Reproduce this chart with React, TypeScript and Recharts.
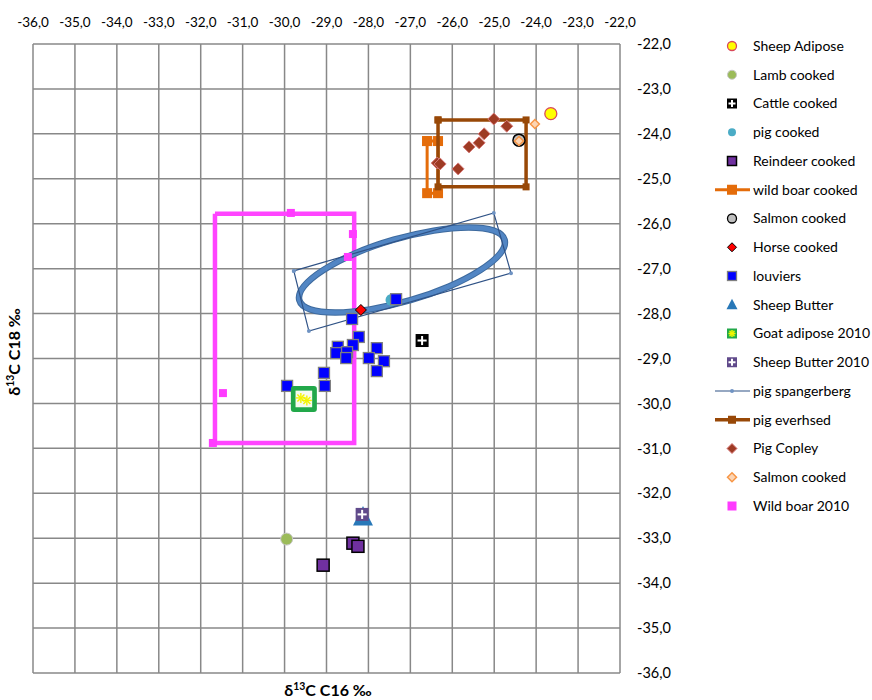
import React from 'react';
import { ScatterChart, Scatter, XAxis, YAxis, CartesianGrid } from 'recharts';

const xTicks = [-36, -35, -34, -33, -32, -31, -30, -29, -28, -27, -26, -25, -24, -23, -22];
const yTicks = [-36, -35, -34, -33, -32, -31, -30, -29, -28, -27, -26, -25, -24, -23, -22];

const sheepAdipose = [{ x: -23.65, y: -23.55 }];
const lambCooked = [{ x: -29.95, y: -33.02 }];
const cattleCooked = [{ x: -26.72, y: -28.6 }];
const pigCooked = [{ x: -27.45, y: -27.7 }];
const reindeerCooked = [
  { x: -29.08, y: -33.6 },
  { x: -28.37, y: -33.11 },
  { x: -28.25, y: -33.18 },
];
const wildBoarCooked = [
  { x: -26.6, y: -24.16 },
  { x: -26.34, y: -24.16 },
  { x: -26.34, y: -25.32 },
  { x: -26.6, y: -25.32 },
  { x: -26.6, y: -24.16 },
];
const salmonCooked = [{ x: -24.41, y: -24.14 }];
const horseCooked = [{ x: -28.18, y: -27.92 }];
const louviers = [
  { x: -27.34, y: -27.68 },
  { x: -28.39, y: -28.12 },
  { x: -28.23, y: -28.52 },
  { x: -28.73, y: -28.74 },
  { x: -28.37, y: -28.7 },
  { x: -28.77, y: -28.88 },
  { x: -28.51, y: -28.86 },
  { x: -28.53, y: -28.99 },
  { x: -27.8, y: -28.77 },
  { x: -27.99, y: -28.99 },
  { x: -27.63, y: -29.06 },
  { x: -27.8, y: -29.28 },
  { x: -29.06, y: -29.32 },
  { x: -29.04, y: -29.61 },
  { x: -29.94, y: -29.61 },
];
const sheepButter = [{ x: -28.13, y: -32.53 }];
const goatAdipose2010 = [{ x: -29.54, y: -29.9 }];
const sheepButter2010 = [{ x: -28.15, y: -32.47 }];
const pigSpangerberg = [
  { x: -29.78, y: -27.05 },
  { x: -29.42, y: -28.39 },
  { x: -24.6, y: -27.1 },
  { x: -25.01, y: -25.76 },
  { x: -29.78, y: -27.05 },
];
const pigEverhsed = [
  { x: -26.34, y: -23.69 },
  { x: -24.24, y: -23.69 },
  { x: -24.24, y: -25.18 },
  { x: -26.34, y: -25.18 },
  { x: -26.34, y: -23.69 },
];
const pigCopley = [
  { x: -25.01, y: -23.67 },
  { x: -24.7, y: -23.83 },
  { x: -25.24, y: -24.0 },
  { x: -25.36, y: -24.2 },
  { x: -25.6, y: -24.29 },
  { x: -26.36, y: -24.65 },
  { x: -26.29, y: -24.67 },
  { x: -25.86, y: -24.78 },
];
const salmonCooked2 = [
  { x: -24.03, y: -23.78 },
  { x: -24.41, y: -24.16 },
];
const wildBoar2010 = [
  { x: -29.85, y: -25.76 },
  { x: -28.37, y: -26.23 },
  { x: -28.49, y: -26.74 },
  { x: -31.47, y: -29.77 },
  { x: -31.71, y: -30.88 },
];
const wildBoar2010Box = [
  { x: -31.66, y: -25.78 },
  { x: -28.34, y: -25.78 },
  { x: -28.34, y: -30.88 },
  { x: -31.66, y: -30.88 },
  { x: -31.66, y: -25.78 },
];
const ellipseOutline = [
  { x: -24.69, y: -26.34 },
  { x: -24.8, y: -26.66 },
  { x: -25.28, y: -27.03 },
  { x: -26.05, y: -27.41 },
  { x: -26.99, y: -27.72 },
  { x: -27.98, y: -27.93 },
  { x: -28.83, y: -28.0 },
  { x: -29.45, y: -27.93 },
  { x: -29.71, y: -27.72 },
  { x: -29.6, y: -27.4 },
  { x: -29.12, y: -27.03 },
  { x: -28.35, y: -26.65 },
  { x: -27.4, y: -26.34 },
  { x: -26.42, y: -26.13 },
  { x: -25.57, y: -26.06 },
  { x: -24.95, y: -26.13 },
];

const FONT = 'Lato, "Open Sans", sans-serif';
const fmt = (v: number) => v.toFixed(1).replace('.', ',');

const none = () => <g />;
const circle = (fill: string, stroke: string, r: number, sw = 1) => (p: any) => (
  <circle cx={p.cx} cy={p.cy} r={r} fill={fill} stroke={stroke} strokeWidth={sw} />
);
const square = (fill: string, stroke: string, s: number, sw = 1) => (p: any) => (
  <rect x={p.cx - s / 2} y={p.cy - s / 2} width={s} height={s} fill={fill} stroke={stroke} strokeWidth={sw} />
);
const crossSquare = (fill: string, s: number) => (p: any) => (
  <g>
    <rect x={p.cx - s / 2} y={p.cy - s / 2} width={s} height={s} fill={fill} />
    <line x1={p.cx - s * 0.35} y1={p.cy} x2={p.cx + s * 0.35} y2={p.cy} stroke="#fff" strokeWidth={2} />
    <line x1={p.cx} y1={p.cy - s * 0.35} x2={p.cx} y2={p.cy + s * 0.35} stroke="#fff" strokeWidth={2} />
  </g>
);
const diamond = (fill: string, stroke: string, h: number, sw = 1) => (p: any) => (
  <polygon
    points={`${p.cx},${p.cy - h} ${p.cx + h},${p.cy} ${p.cx},${p.cy + h} ${p.cx - h},${p.cy}`}
    fill={fill}
    stroke={stroke}
    strokeWidth={sw}
  />
);
const triangle = (fill: string, w: number) => (p: any) => (
  <polygon
    points={`${p.cx},${p.cy - w * 0.55} ${p.cx + w / 2},${p.cy + w * 0.42} ${p.cx - w / 2},${p.cy + w * 0.42}`}
    fill={fill}
  />
);
const star = (cx: number, cy: number, r: number) => (
  <g stroke="#F4F400" strokeWidth={1.4}>
    <line x1={cx - r} y1={cy} x2={cx + r} y2={cy} />
    <line x1={cx} y1={cy - r} x2={cx} y2={cy + r} />
    <line x1={cx - r * 0.7} y1={cy - r * 0.7} x2={cx + r * 0.7} y2={cy + r * 0.7} />
    <line x1={cx - r * 0.7} y1={cy + r * 0.7} x2={cx + r * 0.7} y2={cy - r * 0.7} />
  </g>
);
const goatShape = (s: number) => (p: any) => (
  <g>
    <rect x={p.cx - s / 2} y={p.cy - s / 2} width={s} height={s} rx={s > 15 ? 3 : 0} fill="#22A84A" />
    <rect x={p.cx - s * 0.32} y={p.cy - s * 0.32} width={s * 0.64} height={s * 0.64} fill={s > 15 ? '#F6FBEF' : '#3FCB3F'} />
    {s > 15 ? (
      <g>
        {star(p.cx - 3, p.cy - 1, 5)}
        {star(p.cx + 3, p.cy + 1.5, 5)}
      </g>
    ) : (
      star(p.cx, p.cy, s * 0.35)
    )}
  </g>
);

const shapes = {
  sheepAdipose: circle('#FFFF00', '#D9485A', 6, 1.3),
  lamb: circle('#9BBB59', '#C8C8C8', 6, 1),
  cattle: crossSquare('#000', 13),
  pig: circle('#4BACC6', '#4BACC6', 6, 0),
  reindeer: square('#7030A0', '#000', 12, 1.5),
  wildBoarCooked: square('#E46C0A', '#E46C0A', 10, 0),
  salmon: circle('#BFBFBF', '#000', 6, 1.5),
  horse: diamond('#FF0000', '#000', 5.5, 1),
  louviers: square('#0000FF', '#7F7F7F', 11, 1.3),
  sheepButter: triangle('#2878B8', 20),
  goat: goatShape(26),
  sheepButter2010: crossSquare('#604A8B', 13),
  spangerberg: circle('#6F93C3', '#6F93C3', 2, 0),
  everhsed: square('#984807', '#984807', 7, 0),
  copley: diamond('#9E3B24', '#D77A7A', 6, 1),
  salmon2: diamond('#FCD5B4', '#F79646', 4.5, 1.5),
  wildBoar2010: square('#FF3BFF', '#FF3BFF', 8, 0),
};

type LegendItem = { name: string; icon: (p: any) => React.ReactNode; line?: { stroke: string; width: number } };
const legendItems: LegendItem[] = [
  { name: 'Sheep Adipose', icon: circle('#FFFF00', '#D9485A', 4.5, 1.3) },
  { name: 'Lamb cooked', icon: circle('#9BBB59', '#C8C8C8', 4.5, 1) },
  { name: 'Cattle cooked', icon: crossSquare('#000', 10) },
  { name: 'pig cooked', icon: circle('#4BACC6', '#4BACC6', 4, 0) },
  { name: 'Reindeer cooked', icon: square('#7030A0', '#000', 9, 1.5) },
  { name: 'wild boar cooked', icon: square('#E46C0A', '#E46C0A', 10, 0), line: { stroke: '#E46C0A', width: 3 } },
  { name: 'Salmon cooked', icon: circle('#BFBFBF', '#000', 4.5, 1.3) },
  { name: 'Horse cooked', icon: diamond('#FF0000', '#000', 4.5, 1) },
  { name: 'louviers', icon: square('#0000FF', '#7F7F7F', 9, 1.3) },
  { name: 'Sheep Butter', icon: triangle('#2878B8', 11) },
  { name: 'Goat adipose 2010', icon: goatShape(10) },
  { name: 'Sheep Butter 2010', icon: crossSquare('#604A8B', 10) },
  { name: 'pig spangerberg', icon: circle('#6F93C3', '#6F93C3', 2, 0), line: { stroke: '#2F5286', width: 1.2 } },
  { name: 'pig everhsed', icon: square('#984807', '#984807', 8, 0), line: { stroke: '#984807', width: 3.5 } },
  { name: 'Pig Copley', icon: diamond('#9E3B24', '#D77A7A', 5, 1) },
  { name: 'Salmon cooked', icon: diamond('#FCD5B4', '#F79646', 4.5, 1.5) },
  { name: 'Wild boar 2010', icon: square('#FF3BFF', '#FF3BFF', 9, 0) },
];

function Legend() {
  return (
    <g>
      {legendItems.map((it, i) => {
        const cy = 46 + i * 28.75;
        const cx = 732;
        return (
          <g key={i}>
            {it.line && <line x1={715} y1={cy} x2={750} y2={cy} stroke={it.line.stroke} strokeWidth={it.line.width} />}
            {it.icon({ cx, cy })}
            <text x={753} y={cy} dy="0.35em" fontFamily={FONT} fontSize={14} fill="#000">
              {it.name}
            </text>
          </g>
        );
      })}
    </g>
  );
}

export default function App() {
  return (
    <div style={{ position: 'absolute', left: 0, top: 0, width: 872, height: 700, background: '#fff' }}>
      <ScatterChart width={872} height={700} margin={{ top: 0, right: 192, bottom: 27, left: 33 }}>
        <CartesianGrid stroke="#888888" strokeWidth={1.5} />
        <XAxis
          type="number"
          dataKey="x"
          orientation="top"
          height={44}
          domain={[-36, -22]}
          ticks={xTicks}
          allowDataOverflow
          axisLine={false}
          tickLine={false}
          tickMargin={11}
          tickFormatter={fmt}
          tick={{ fill: '#000', fontSize: 13.5, fontFamily: FONT }}
          interval={0}
        />
        <YAxis
          type="number"
          dataKey="y"
          orientation="right"
          width={60}
          domain={[-36, -22]}
          ticks={yTicks}
          allowDataOverflow
          axisLine={false}
          tickLine={false}
          tickMargin={11}
          tickFormatter={fmt}
          tick={{ fill: '#000', fontSize: 14.5, fontFamily: FONT, textAnchor: 'start' }}
          interval={0}
        />
        <Scatter name="wildBoar2010Box" data={wildBoar2010Box} line={{ stroke: '#FF44FF', strokeWidth: 4.5, fill: 'none' }} lineType="joint" shape={none} isAnimationActive={false} />
        <Scatter name="ellipseShadow" data={ellipseOutline} line={{ stroke: '#3D6A9E', strokeWidth: 6.5, fill: 'none' }} lineType="joint" lineJointType="basisClosed" shape={none} isAnimationActive={false} />
        <Scatter name="ellipse" data={ellipseOutline} line={{ stroke: '#5286C4', strokeWidth: 4.5, fill: 'none' }} lineType="joint" lineJointType="basisClosed" shape={none} isAnimationActive={false} />
        <Scatter name="pig spangerberg" data={pigSpangerberg} line={{ stroke: '#2F5286', strokeWidth: 1.2, fill: 'none' }} lineType="joint" shape={shapes.spangerberg} isAnimationActive={false} />
        <Scatter name="wild boar cooked" data={wildBoarCooked} line={{ stroke: '#E46C0A', strokeWidth: 3, fill: 'none' }} lineType="joint" shape={shapes.wildBoarCooked} isAnimationActive={false} />
        <Scatter name="pig everhsed" data={pigEverhsed} line={{ stroke: '#984807', strokeWidth: 3.5, fill: 'none' }} lineType="joint" shape={shapes.everhsed} isAnimationActive={false} />
        <Scatter name="Wild boar 2010" data={wildBoar2010} shape={shapes.wildBoar2010} isAnimationActive={false} />
        <Scatter name="Sheep Adipose" data={sheepAdipose} shape={shapes.sheepAdipose} isAnimationActive={false} />
        <Scatter name="Lamb cooked" data={lambCooked} shape={shapes.lamb} isAnimationActive={false} />
        <Scatter name="Cattle cooked" data={cattleCooked} shape={shapes.cattle} isAnimationActive={false} />
        <Scatter name="pig cooked" data={pigCooked} shape={shapes.pig} isAnimationActive={false} />
        <Scatter name="Reindeer cooked" data={reindeerCooked} shape={shapes.reindeer} isAnimationActive={false} />
        <Scatter name="Salmon cooked" data={salmonCooked} shape={shapes.salmon} isAnimationActive={false} />
        <Scatter name="Horse cooked" data={horseCooked} shape={shapes.horse} isAnimationActive={false} />
        <Scatter name="louviers" data={louviers} shape={shapes.louviers} isAnimationActive={false} />
        <Scatter name="Sheep Butter" data={sheepButter} shape={shapes.sheepButter} isAnimationActive={false} />
        <Scatter name="Goat adipose 2010" data={goatAdipose2010} shape={shapes.goat} isAnimationActive={false} />
        <Scatter name="Sheep Butter 2010" data={sheepButter2010} shape={shapes.sheepButter2010} isAnimationActive={false} />
        <Scatter name="Pig Copley" data={pigCopley} shape={shapes.copley} isAnimationActive={false} />
        <Scatter name="Salmon cooked 2" data={salmonCooked2} shape={shapes.salmon2} isAnimationActive={false} />
      </ScatterChart>
      <svg width={872} height={700} style={{ position: 'absolute', left: 0, top: 0, pointerEvents: 'none' }}>
        <Legend />
        <text x={328} y={696} textAnchor="middle" fontFamily={FONT} fontWeight="bold" fontSize={16} fill="#000">
          δ<tspan fontSize={10.5} dy={-6}>13</tspan>
          <tspan dy={6}>C C16 ‰</tspan>
        </text>
        <text
          x={0}
          y={0}
          transform="translate(20,352) rotate(-90)"
          textAnchor="middle"
          fontFamily={FONT}
          fontWeight="bold"
          fontSize={16}
          fill="#000"
        >
          δ<tspan fontSize={10.5} dy={-6}>13</tspan>
          <tspan dy={6}>C C18 ‰</tspan>
        </text>
      </svg>
    </div>
  );
}
